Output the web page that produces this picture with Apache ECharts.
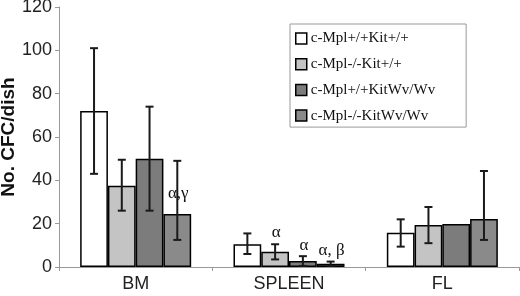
<!DOCTYPE html>
<html>
<head>
<meta charset="utf-8">
<script src="https://cdn.jsdelivr.net/npm/echarts@6/dist/echarts.min.js"></script>
<style>
  html, body { margin: 0; padding: 0; background: #fff; }
  #chart { width: 520px; height: 296px; }
</style>
</head>
<body>
<div id="chart"></div>
<script>
var categories = ['BM', 'SPLEEN', 'FL'];
var seriesNames = ['c-Mpl+/+Kit+/+', 'c-Mpl-/-Kit+/+', 'c-Mpl+/+KitWv/Wv', 'c-Mpl-/-KitWv/Wv'];
var seriesColors = ['#ffffff', '#c4c4c4', '#7c7c7c', '#8a8a8a'];

// mean values per genotype, in category order
var wtWt = [72, 10.5, 15.8];
var koWt = [37.5, 7, 19.4];
var wtWv = [50, 2.8, 19.8];
var koWv = [24.5, 1.5, 22.1];

// error bars [low, high]
var errWtWt = [[43, 101], [6, 15.5], [9.4, 22]];
var errKoWt = [[26, 49.5], [3.5, 10.5], [11, 27.7]];
var errWtWv = [[26, 74], [0.5, 5], null];
var errKoWv = [[12.5, 49], [0.5, 2.5], [12.5, 44.3]];

// significance marks: [category, series, y]
var markTexts = ['α,γ', 'α', 'α', 'α, β'];
var markPos = [[0, 3, 34], [1, 1, 15.7], [1, 2, 9.7], [1, 3, 7.4]];

var allValues = [wtWt, koWt, wtWv, koWv];
var allErr = [errWtWt, errKoWt, errWtWv, errKoWv];

var errData = [];
allErr.forEach(function (list, s) {
  list.forEach(function (e, c) {
    if (e) errData.push([c, s, e[0], e[1]]);
  });
});

var catGap = 0.276;

function barCenter(api, cat, s) {
  var base = api.coord([cat, 0]);
  var bandW = api.size([1, 0])[0];
  var barW = bandW * (1 - catGap) / 4;
  return { x: base[0] - barW * 2 + barW * (s + 0.5), w: barW };
}

var myChart = echarts.init(document.getElementById('chart'));

var series = seriesNames.map(function (name, s) {
  return {
    name: name,
    type: 'bar',
    barGap: 0,
    barCategoryGap: (catGap * 100) + '%',
    itemStyle: { color: seriesColors[s], borderColor: '#000', borderWidth: 1.5 },
    emphasis: { disabled: true },
    data: allValues[s]
  };
});

series.push({
  type: 'custom',
  silent: true,
  z: 5,
  data: errData,
  renderItem: function (params, api) {
    var b = barCenter(api, api.value(0), api.value(1));
    var lo = api.coord([api.value(0), api.value(2)])[1];
    var hi = api.coord([api.value(0), api.value(3)])[1];
    var cap = 4;
    var st = { stroke: '#1a1a1a', lineWidth: 2 };
    return {
      type: 'group',
      children: [
        { type: 'line', shape: { x1: b.x, y1: lo, x2: b.x, y2: hi }, style: st },
        { type: 'line', shape: { x1: b.x - cap, y1: lo, x2: b.x + cap, y2: lo }, style: st },
        { type: 'line', shape: { x1: b.x - cap, y1: hi, x2: b.x + cap, y2: hi }, style: st }
      ]
    };
  }
});

series.push({
  type: 'custom',
  silent: true,
  z: 6,
  data: markPos.map(function (m, i) { return [m[0], m[1], m[2], i]; }),
  renderItem: function (params, api) {
    var b = barCenter(api, api.value(0), api.value(1));
    var y = api.coord([api.value(0), api.value(2)])[1];
    return {
      type: 'text',
      style: {
        x: b.x + 1,
        y: y,
        text: markTexts[api.value(3)],
        font: '17px "Liberation Serif", "Times New Roman", serif',
        fill: '#111',
        align: 'center',
        verticalAlign: 'middle'
      }
    };
  }
});

var option = {
  backgroundColor: '#fff',
  animation: false,
  grid: { left: 59, right: 1, top: 7, bottom: 29, containLabel: false, outerBoundsMode: 'none' },
  legend: {
    orient: 'vertical',
    left: 290,
    top: 24,
    padding: [7, 31, 4, 5],
    itemGap: 10.7,
    itemWidth: 11,
    itemHeight: 11,
    borderColor: '#999',
    borderWidth: 1,
    icon: 'rect',
    itemStyle: { borderColor: '#000', borderWidth: 1.5 },
    textStyle: {
      fontFamily: '"Liberation Serif", "Times New Roman", serif',
      fontSize: 15,
      lineHeight: 14,
      color: '#111',
      padding: [0, 0, 0, -1]
    },
    data: seriesNames
  },
  xAxis: {
    type: 'category',
    data: categories,
    axisLine: { lineStyle: { color: '#999', width: 1 } },
    axisTick: { show: true, length: 4, lineStyle: { color: '#999' } },
    axisLabel: { fontFamily: 'Arial, "Liberation Sans", sans-serif', fontSize: 18, color: '#222', margin: 8 }
  },
  yAxis: {
    type: 'value',
    min: 0,
    max: 120,
    interval: 20,
    name: 'No. CFC/dish',
    nameLocation: 'middle',
    nameGap: 41,
    nameMoveOverlap: false,
    nameTextStyle: { fontFamily: 'Arial, "Liberation Sans", sans-serif', fontSize: 19, fontWeight: 'bold', color: '#111' },
    axisLine: { show: true, lineStyle: { color: '#999', width: 1 } },
    axisTick: { show: true, length: 4, lineStyle: { color: '#999' } },
    splitLine: { show: false },
    axisLabel: { fontFamily: 'Arial, "Liberation Sans", sans-serif', fontSize: 18, color: '#222', margin: 7 }
  },
  series: series
};

myChart.setOption(option);
</script>
</body>
</html>
